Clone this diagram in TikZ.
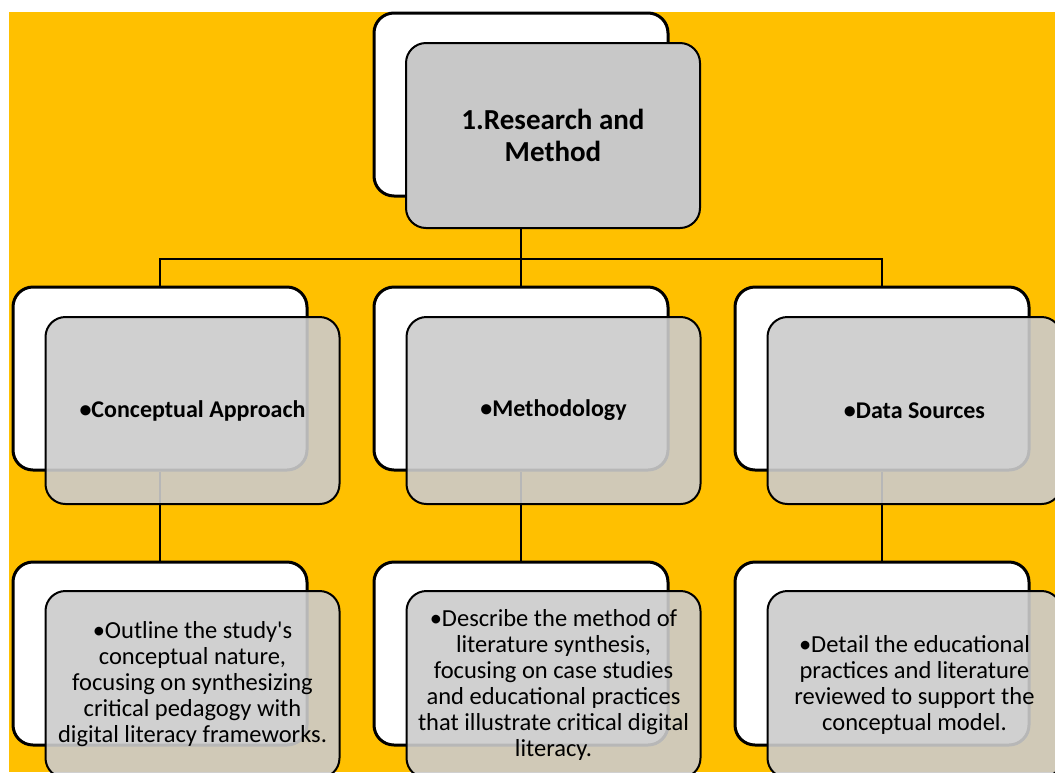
\documentclass[tikz,border=0pt]{standalone}
\usepackage{fontspec}
\setmainfont{Carlito}
\usetikzlibrary{positioning}
\definecolor{mustard}{HTML}{FFC000}
\definecolor{headgray}{HTML}{C8C8C8}
\definecolor{glassgray}{HTML}{CBCBCB}
\tikzset{
  backbox/.style={draw=black, line width=3pt, fill=white, rounded corners=20pt,
    minimum width=294pt, minimum height=183pt},
  headbox/.style={draw=black, line width=2pt, fill=headgray, rounded corners=20pt,
    minimum width=294pt, minimum height=185pt, align=center,
    font=\fontsize{29}{32}\selectfont\bfseries},
  glassbox/.style={draw=black, line width=2pt, fill=glassgray, fill opacity=0.9,
    text opacity=1, rounded corners=20pt, minimum width=294pt, minimum height=187pt,
    align=center},
  titletext/.style={font=\fontsize{24}{28}\selectfont\bfseries},
  bodytext/.style={font=\fontsize{24.5}{26}\selectfont},
  link/.style={draw=black, line width=2pt},
}
\begin{document}
\begin{tikzpicture}[x=1pt,y=-1pt]
	% Page and background
	\useasboundingbox (0,0) rectangle (1055,772);
	\clip (0,0) rectangle (1055,772);
	\fill[white] (0,0) rectangle (1055,772);
	\fill[mustard] (9,12) rectangle (1055,772);
	
	% White boxes behind
	\node[backbox] (topback) at (521,104.5) {};
	\node[backbox] (c1back) at (160,378.5) {};
	\node[backbox] (c2back) at (521,378.5) {};
	\node[backbox] (c3back) at (882,378.5) {};
	\node[backbox] (d1back) at (160,653.5) {};
	\node[backbox] (d2back) at (521,653.5) {};
	\node[backbox] (d3back) at (882,653.5) {};
	
	% Connectors
	\draw[link] (topback.south) -- ++(0,61) coordinate (fork);
	\draw[link] (fork) -| (c1back.north);
	\draw[link] (fork) -| (c3back.north);
	\draw[link] (fork) -- (c2back.north);
	\draw[link] (c1back.south) -- (d1back.north);
	\draw[link] (c2back.south) -- (d2back.north);
	\draw[link] (c3back.south) -- (d3back.north);
	
	% Gray boxes in front
	\node[headbox] (top) at ([shift={(32,31)}]topback.center) {1.Research and\\Method};
	\node[glassbox, titletext] (c1) at ([shift={(32.5,32)}]c1back.center) {•Conceptual Approach};
	\node[glassbox, titletext] (c2) at ([shift={(32.5,32)}]c2back.center) {•Methodology};
	\node[glassbox, titletext] (c3) at ([shift={(32.5,32)}]c3back.center) {•Data Sources};
	\node[glassbox, bodytext] (d1) at ([shift={(32.5,31)}]d1back.center)
		{•Outline the study\textquotesingle s\\conceptual nature,\\focusing on synthesizing\\critical pedagogy with\\digital literacy frameworks.};
	\node[glassbox, bodytext] (d2) at ([shift={(32.5,31)}]d2back.center)
		{•Describe the method of\\literature synthesis,\\focusing on case studies\\and educational practices\\that illustrate critical digital\\literacy.};
	\node[glassbox, bodytext] (d3) at ([shift={(32.5,31)}]d3back.center)
		{•Detail the educational\\practices and literature\\reviewed to support the\\conceptual model.};
\end{tikzpicture}
\end{document}
